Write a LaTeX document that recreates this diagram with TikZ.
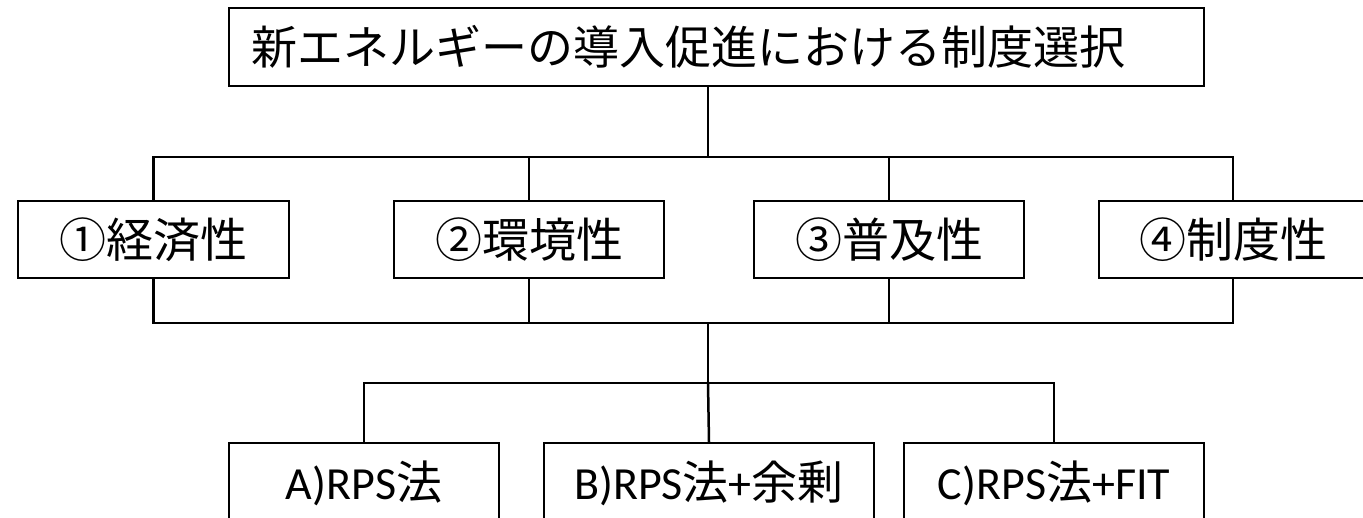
\documentclass[tikz,border=0pt]{standalone}
\usepackage{fontspec}
\setmainfont{Carlito}
\newfontfamily\cjk{Noto Sans CJK JP}
\newcommand{\lift}[1]{\raisebox{4pt}{#1}}
\begin{document}
\begin{tikzpicture}[x=1pt,y=-1pt,
  box/.style={draw, line width=2pt, inner sep=0pt, anchor=north west, fill=white},
  mid/.style={box, minimum height=77pt, font=\cjk\fontsize{47}{47}\selectfont},
  low/.style={box, minimum height=80pt, font=\fontsize{46}{46}\selectfont},
  conn/.style={line width=2.5pt, line cap=rect},
  ]
\clip (0,0) rectangle (1363,518);
\fill[white] (0,0) rectangle (1363,518);
\coordinate (hub1) at (708,157);
\coordinate (hub2) at (708,323);
\coordinate (hub3) at (708,383);
\node[box, minimum width=975pt, minimum height=78pt, text width=931pt, align=left, inner xsep=22pt, font=\cjk\fontsize{46}{46}\selectfont] (top) at (228,7) {新エネルギーの導入促進における制度選択};
\node[mid, minimum width=271pt] (m1) at (17,200) {①経済性};
\node[mid, minimum width=270pt] (m2) at (393,200) {②環境性};
\node[mid, minimum width=270pt] (m3) at (753,200) {③普及性};
\node[mid, minimum width=268pt] (m4) at (1098,200) {④制度性};
\node[low, minimum width=270pt] (bA) at (228,442) {\lift{A)RPS{\cjk 法}}};
\node[low, minimum width=330pt] (bB) at (543,442) {\lift{B)RPS{\cjk 法}+{\cjk 余剰}}};
\node[low, minimum width=300pt] (bC) at (903,442) {\lift{C)RPS{\cjk 法}+FIT}};
\draw[conn] (top.south -| hub1) -- (hub1);
\draw[conn] (m1.north) -- (m1.north |- hub1) -- (m4.north |- hub1) -- (m4.north);
\draw[conn] (m2.north) -- (m2.north |- hub1);
\draw[conn] (m3.north) -- (m3.north |- hub1);
\draw[conn] (m1.south) -- (m1.south |- hub2) -- (m4.south |- hub2) -- (m4.south);
\draw[conn] (m2.south) -- (m2.south |- hub2);
\draw[conn] (m3.south) -- (m3.south |- hub2);
\draw[conn] (hub2) -- (hub3);
\draw[conn] (bA.north) -- (bA.north |- hub3) -- (bC.north |- hub3) -- (bC.north);
\draw[conn] (hub3) -- (bB.north);
\end{tikzpicture}
\end{document}
